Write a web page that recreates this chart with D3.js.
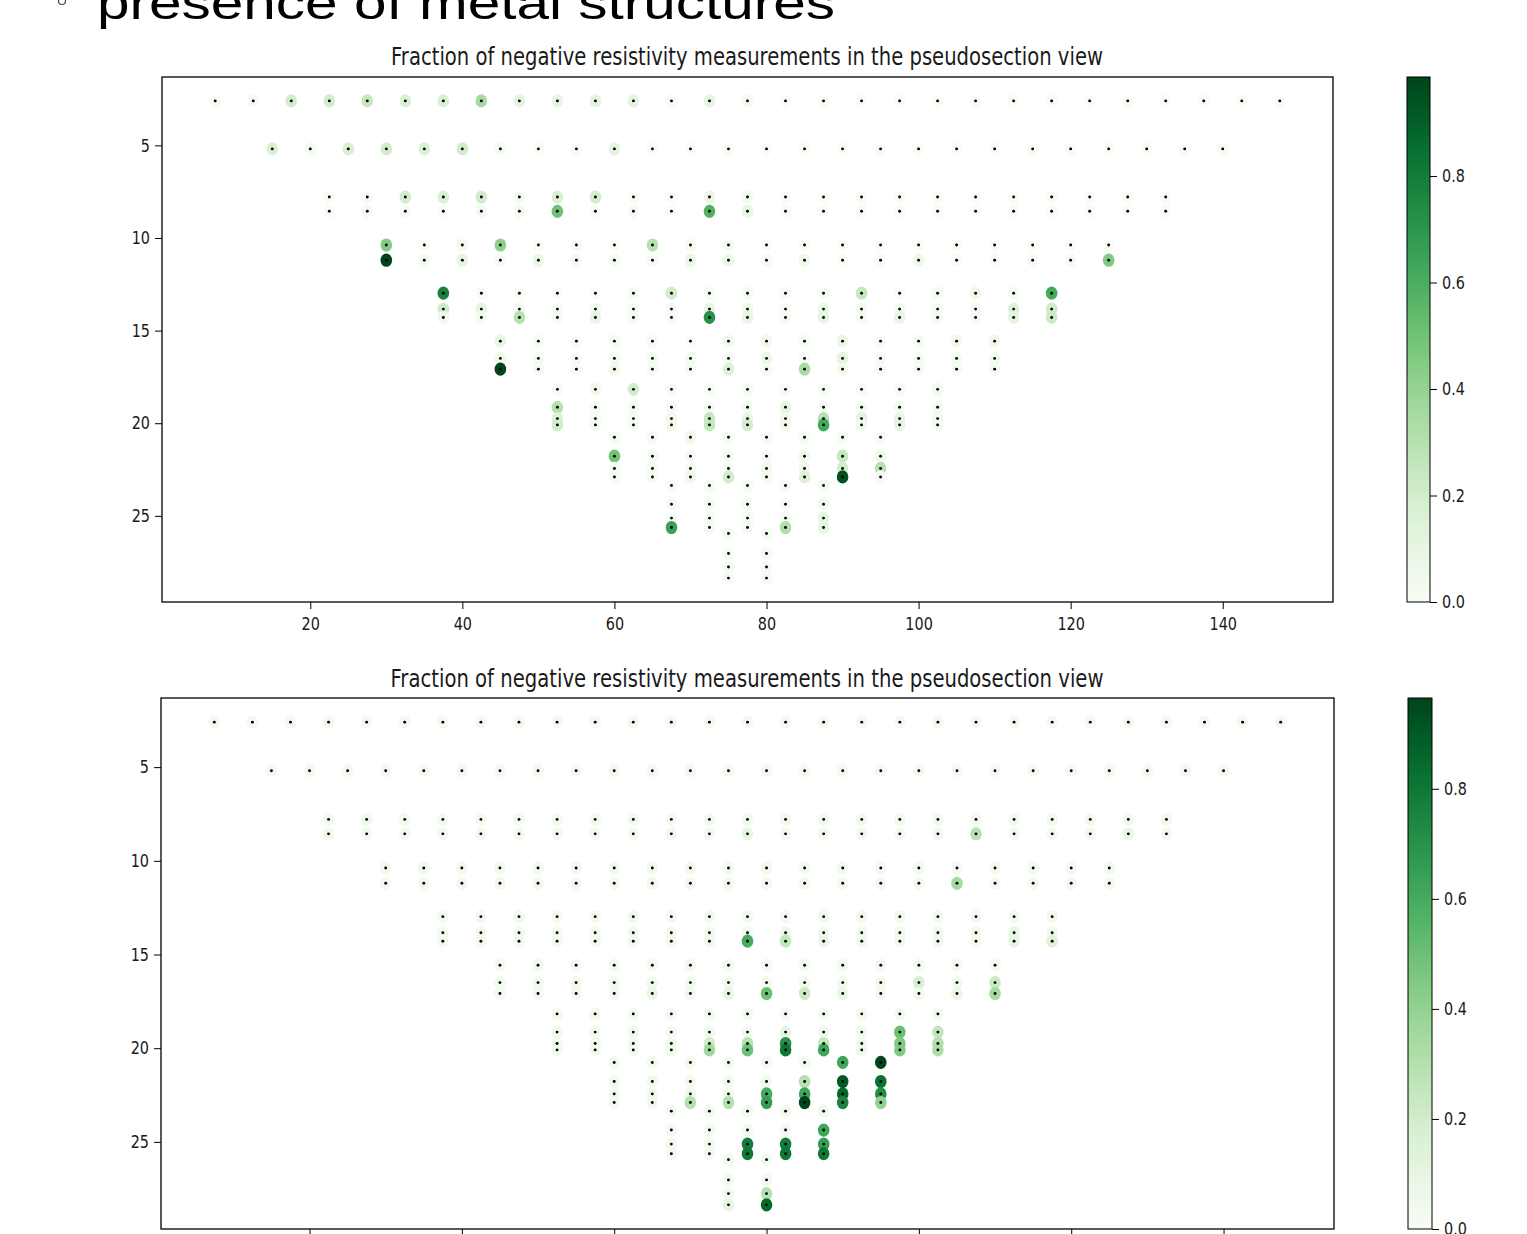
<!DOCTYPE html>
<html><head><meta charset="utf-8">
<script src="https://cdn.jsdelivr.net/npm/d3@7"></script>
<style>body{margin:0;background:#fff;overflow:hidden}</style>
</head><body>
<script>
// ---------- data ----------
const xLevel1 = [7.5,12.5,17.5,22.5,27.5,32.5,37.5,42.5,47.5,52.5,57.5,62.5,67.5,72.5,77.5,82.5,87.5,92.5,97.5,102.5,107.5,112.5,117.5,122.5,127.5,132.5,137.5,142.5,147.5];
const xLevel2 = [15,20,25,30,35,40,45,50,55,60,65,70,75,80,85,90,95,100,105,110,115,120,125,130,135,140];
const xLevel3 = [22.5,27.5,32.5,37.5,42.5,47.5,52.5,57.5,62.5,67.5,72.5,77.5,82.5,87.5,92.5,97.5,102.5,107.5,112.5,117.5,122.5,127.5,132.5];
const xLevel4 = [30,35,40,45,50,55,60,65,70,75,80,85,90,95,100,105,110,115,120,125];
const xLevel5 = [37.5,42.5,47.5,52.5,57.5,62.5,67.5,72.5,77.5,82.5,87.5,92.5,97.5,102.5,107.5,112.5,117.5];
const xLevel6 = [45,50,55,60,65,70,75,80,85,90,95,100,105,110];
const xLevel7 = [52.5,57.5,62.5,67.5,72.5,77.5,82.5,87.5,92.5,97.5,102.5];
const xLevel8 = [60,65,70,75,80,85,90,95];
const xLevel9 = [67.5,72.5,77.5,82.5,87.5];
const xLevel10 = [75,80];

// pseudo-depth of each measurement row and the level (x set) it belongs to
const rowDepth = [2.6,5.19,7.79,8.56,10.38,11.2,12.98,13.84,14.29,15.57,16.5,17.08,18.17,19.14,19.75,20.09,20.76,21.78,22.44,22.9,23.36,24.37,25.12,25.63,25.95,27.03,27.76,28.36];
const rowLevel = [1,2,3,3,4,4,5,5,5,6,6,6,7,7,7,7,8,8,8,8,9,9,9,9,10,10,10,10];

// fraction of negative measurements, top panel (one list per row)
const fracTop = [
 [0,0.02,0.2,0.2,0.25,0.17,0.17,0.35,0.12,0.1,0.12,0.12,0.02,0.12,0.03,0,0,0,0,0,0,0,0,0,0,0,0,0,0],
 [0.17,0.02,0.17,0.2,0.17,0.2,0.02,0,0,0.12,0,0,0,0,0,0,0,0,0,0,0,0,0,0,0,0],
 [0,0.02,0.2,0.17,0.2,0.02,0.17,0.2,0,0,0.08,0.03,0,0,0,0,0,0,0,0,0,0,0],
 [0,0.02,0.02,0,0.03,0.03,0.5,0,0.02,0,0.58,0.1,0,0,0,0,0,0,0,0,0,0,0],
 [0.45,0,0.03,0.42,0,0.03,0,0.3,0.02,0.02,0,0,0,0,0,0,0,0,0,0],
 [0.985,0.03,0.1,0.02,0.08,0.02,0.02,0.02,0.08,0.08,0.02,0.06,0,0,0.06,0,0,0,0.02,0.45],
 [0.78,0,0,0,0,0.02,0.2,0.02,0.02,0.02,0.02,0.25,0,0.02,0.06,0.02,0.62],
 [0.22,0.1,0.03,0.02,0.02,0.02,0.02,0.1,0.05,0.02,0.08,0.03,0.02,0.02,0.02,0.15,0.22],
 [0.05,0.02,0.3,0.02,0.1,0.02,0.02,0.72,0.1,0.02,0.1,0.02,0.1,0.02,0.02,0.12,0.22],
 [0.1,0.02,0,0.02,0.02,0,0.05,0.05,0.02,0.08,0.02,0.02,0.05,0.05],
 [0.05,0.02,0.02,0.02,0.02,0.02,0.02,0.08,0.02,0.12,0.02,0.02,0.02,0.02],
 [0.985,0.02,0.02,0.05,0.02,0.02,0.15,0.02,0.35,0.05,0.02,0.02,0.02,0.02],
 [0.02,0.05,0.2,0.02,0.02,0.02,0.02,0.02,0.02,0.02,0.05],
 [0.3,0.02,0.02,0.02,0.02,0.02,0.1,0.02,0.02,0.02,0.02],
 [0.15,0.02,0.02,0.05,0.25,0.1,0.05,0.3,0.12,0.1,0.05],
 [0.2,0.02,0.02,0.05,0.25,0.2,0.05,0.62,0.02,0.1,0.02],
 [0.02,0.02,0.05,0.02,0.02,0.02,0.02,0.02],
 [0.5,0.02,0.02,0.02,0.02,0.05,0.25,0.05],
 [0.02,0.02,0.02,0.02,0.05,0.05,0.2,0.3],
 [0.02,0.02,0.05,0.2,0.02,0.15,0.95,0.02],
 [0.02,0.02,0.02,0.02,0.02],
 [0.02,0.02,0.02,0.02,0.05],
 [0.02,0.02,0.02,0.02,0.1],
 [0.65,0.02,0.02,0.32,0.1],
 [0.02,0.02],
 [0.02,0.02],
 [0.02,0.02],
 [0.02,0.02]
];

// fraction of negative measurements, bottom panel
const fracBottom = [
 [0.03,0.03,0.03,0.03,0.03,0.03,0.03,0.03,0.03,0.03,0.03,0.03,0.03,0.03,0.03,0.03,0.03,0.03,0.03,0.03,0.03,0.03,0.03,0.03,0.03,0.03,0.03,0.03,0.03],
 [0.03,0.03,0.03,0.03,0.03,0.03,0.03,0.03,0.03,0.03,0.03,0.03,0.03,0.03,0.03,0.03,0.03,0.03,0.03,0.03,0.03,0.03,0.03,0.03,0.03,0.03],
 [0.03,0.05,0.03,0.03,0.03,0.03,0.03,0.03,0.03,0.03,0.03,0.03,0.03,0.03,0.03,0.03,0.03,0.03,0.03,0.03,0.03,0.03,0.03],
 [0.05,0.05,0.03,0.03,0.03,0.03,0.03,0.03,0.03,0.03,0.03,0.1,0.03,0.03,0.03,0.03,0.03,0.3,0.03,0.03,0.03,0.08,0.03],
 [0.03,0.05,0.03,0.03,0.03,0.03,0.03,0.03,0.03,0.03,0.03,0.03,0.03,0.03,0.03,0.03,0.03,0.03,0.03,0.03],
 [0.03,0.03,0.03,0.03,0.03,0.03,0.03,0.03,0.03,0.03,0.03,0.03,0.03,0.03,0.03,0.35,0.03,0.03,0.03,0.03],
 [0.03,0.03,0.03,0.03,0.03,0.03,0.03,0.03,0.03,0.03,0.03,0.03,0.03,0.03,0.03,0.04,0.03],
 [0.03,0.03,0.03,0.03,0.03,0.03,0.03,0.03,0.03,0.06,0.03,0.03,0.03,0.03,0.03,0.08,0.03],
 [0.03,0.03,0.03,0.03,0.03,0.03,0.03,0.03,0.6,0.25,0.08,0.03,0.03,0.05,0.03,0.1,0.15],
 [0.03,0.03,0.03,0.03,0.03,0.03,0.03,0.03,0.03,0.03,0.03,0.03,0.03,0.03],
 [0.03,0.03,0.03,0.03,0.03,0.03,0.03,0.03,0.03,0.03,0.03,0.18,0.03,0.22],
 [0.03,0.03,0.03,0.04,0.08,0.05,0.1,0.5,0.22,0.08,0.03,0.04,0.08,0.35],
 [0.03,0.03,0.03,0.03,0.03,0.03,0.03,0.03,0.03,0.03,0.03],
 [0.03,0.03,0.03,0.03,0.03,0.03,0.1,0.03,0.04,0.5,0.25],
 [0.03,0.03,0.03,0.03,0.2,0.3,0.7,0.25,0.04,0.45,0.3],
 [0.03,0.03,0.03,0.05,0.35,0.5,0.8,0.62,0.05,0.45,0.32],
 [0.03,0.03,0.03,0.03,0.03,0.03,0.62,0.965],
 [0.03,0.03,0.03,0.03,0.05,0.3,0.9,0.82],
 [0.03,0.03,0.05,0.05,0.6,0.62,0.85,0.72],
 [0.03,0.03,0.3,0.3,0.65,0.965,0.75,0.4],
 [0.03,0.03,0.03,0.03,0.05],
 [0.03,0.03,0.03,0.03,0.62],
 [0.03,0.03,0.78,0.78,0.65],
 [0.03,0.03,0.8,0.8,0.8],
 [0.03,0.03],
 [0.03,0.03],
 [0.03,0.3],
 [0.1,0.85]
];

const xTicks = [20,40,60,80,100,120,140];
const yTicks = [5,10,15,20,25];
const cbarTicks = [0,0.2,0.4,0.6,0.8];
const titleText = "Fraction of negative resistivity measurements in the pseudosection view";
const headerText = "presence of metal structures";

// ---------- drawing ----------
const xLevels = [xLevel1,xLevel2,xLevel3,xLevel4,xLevel5,xLevel6,xLevel7,xLevel8,xLevel9,xLevel10];
const W = 1527, H = 1234;
const svg = d3.select("body").append("svg").attr("width", W).attr("height", H);

svg.append("text")
  .attr("x", 97).attr("y", 19)
  .attr("font-family", "Liberation Sans, Arial, sans-serif")
  .attr("font-size", 46)
  .attr("textLength", 738).attr("lengthAdjust", "spacingAndGlyphs")
  .attr("fill", "#000")
  .text(headerText);
svg.append("circle").attr("cx", 62).attr("cy", 1).attr("r", 3.5)
  .attr("fill", "none").attr("stroke", "#444").attr("stroke-width", 1.2);

const FONT = "DejaVu Sans, sans-serif";
const SX = 0.8;

function styleAxis(sel, kind, size, pad) {
  sel.selectAll(".tick line").attr("stroke", "#000").attr("stroke-width", 1);
  const t = sel.selectAll(".tick text")
    .attr("font-family", FONT).attr("font-size", 18).attr("fill", "#1a1a1a");
  if (kind === "left") t.attr("x", 0).attr("transform", `translate(${-(size + pad)},0) scale(${SX},1)`);
  if (kind === "right") t.attr("x", 0).attr("transform", `translate(${size + pad},0) scale(${SX},1)`);
  if (kind === "bottom") t.attr("transform", `scale(${SX},1)`);
}

function panel(o) {
  const x = d3.scaleLinear().domain([0.5, 154.5]).range([o.l, o.r]);
  const y = d3.scaleLinear().domain([1.31, 29.65]).range([o.t, o.b]);
  const color = d3.scaleSequential(d3.interpolateGreens).domain([0, o.vmax]);
  const g = svg.append("g");

  const pts = [];
  rowDepth.forEach((d, i) => {
    const xs = xLevels[rowLevel[i] - 1];
    xs.forEach((xv, j) => pts.push({ x: xv, y: d, v: o.values[i][j] }));
  });

  g.append("g").selectAll("ellipse").data(pts).join("ellipse")
    .attr("cx", d => x(d.x)).attr("cy", d => y(d.y))
    .attr("rx", 5.8).attr("ry", 6.6)
    .attr("fill", d => color(d.v));
  g.append("g").selectAll("circle").data(pts).join("circle")
    .attr("cx", d => x(d.x)).attr("cy", d => y(d.y))
    .attr("r", 1.45).attr("fill", "#000");

  g.append("rect").attr("x", o.l).attr("y", o.t)
    .attr("width", o.r - o.l).attr("height", o.b - o.t)
    .attr("fill", "none").attr("stroke", "#000").attr("stroke-width", 1.3);

  const xa = g.append("g").attr("transform", `translate(0,${o.b})`)
    .call(d3.axisBottom(x).tickValues(xTicks).tickSize(7).tickPadding(8).tickSizeOuter(0));
  xa.select(".domain").remove();
  styleAxis(xa, "bottom", 7, 8);

  const ya = g.append("g").attr("transform", `translate(${o.l},0)`)
    .call(d3.axisLeft(y).tickValues(yTicks).tickSize(7).tickPadding(5).tickSizeOuter(0));
  ya.select(".domain").remove();
  styleAxis(ya, "left", 7, 5);

  g.append("text").attr("x", o.titleX).attr("y", o.titleY)
    .attr("text-anchor", "middle")
    .attr("font-family", FONT).attr("font-size", 24)
    .attr("textLength", o.titleLen).attr("lengthAdjust", "spacingAndGlyphs")
    .attr("fill", "#1a1a1a")
    .text(titleText);

  // colorbar
  const gid = "grad" + o.id;
  const grad = svg.append("defs").append("linearGradient").attr("id", gid)
    .attr("x1", 0).attr("y1", 1).attr("x2", 0).attr("y2", 0);
  d3.range(0, 1.0001, 0.05).forEach(t => grad.append("stop")
    .attr("offset", t).attr("stop-color", d3.interpolateGreens(t)));
  g.append("rect").attr("x", o.cbl).attr("y", o.t)
    .attr("width", o.cbr - o.cbl).attr("height", o.b - o.t)
    .attr("fill", `url(#${gid})`).attr("stroke", "#000").attr("stroke-width", 1);
  const cy = d3.scaleLinear().domain([0, o.vmax]).range([o.b, o.t]);
  const ca = g.append("g").attr("transform", `translate(${o.cbr},0)`)
    .call(d3.axisRight(cy).tickValues(cbarTicks).tickFormat(d3.format(".1f")).tickSize(7).tickPadding(5).tickSizeOuter(0));
  ca.select(".domain").remove();
  styleAxis(ca, "right", 7, 5);
}

panel({ id: 1, l: 162, r: 1333, t: 77, b: 602, vmax: 0.986, values: fracTop,
  titleX: 747, titleY: 65, titleLen: 712, cbl: 1407, cbr: 1430 });
panel({ id: 2, l: 161, r: 1334, t: 698, b: 1229, vmax: 0.965, values: fracBottom,
  titleX: 747, titleY: 687, titleLen: 713, cbl: 1408, cbr: 1432 });
</script>
</body></html>
